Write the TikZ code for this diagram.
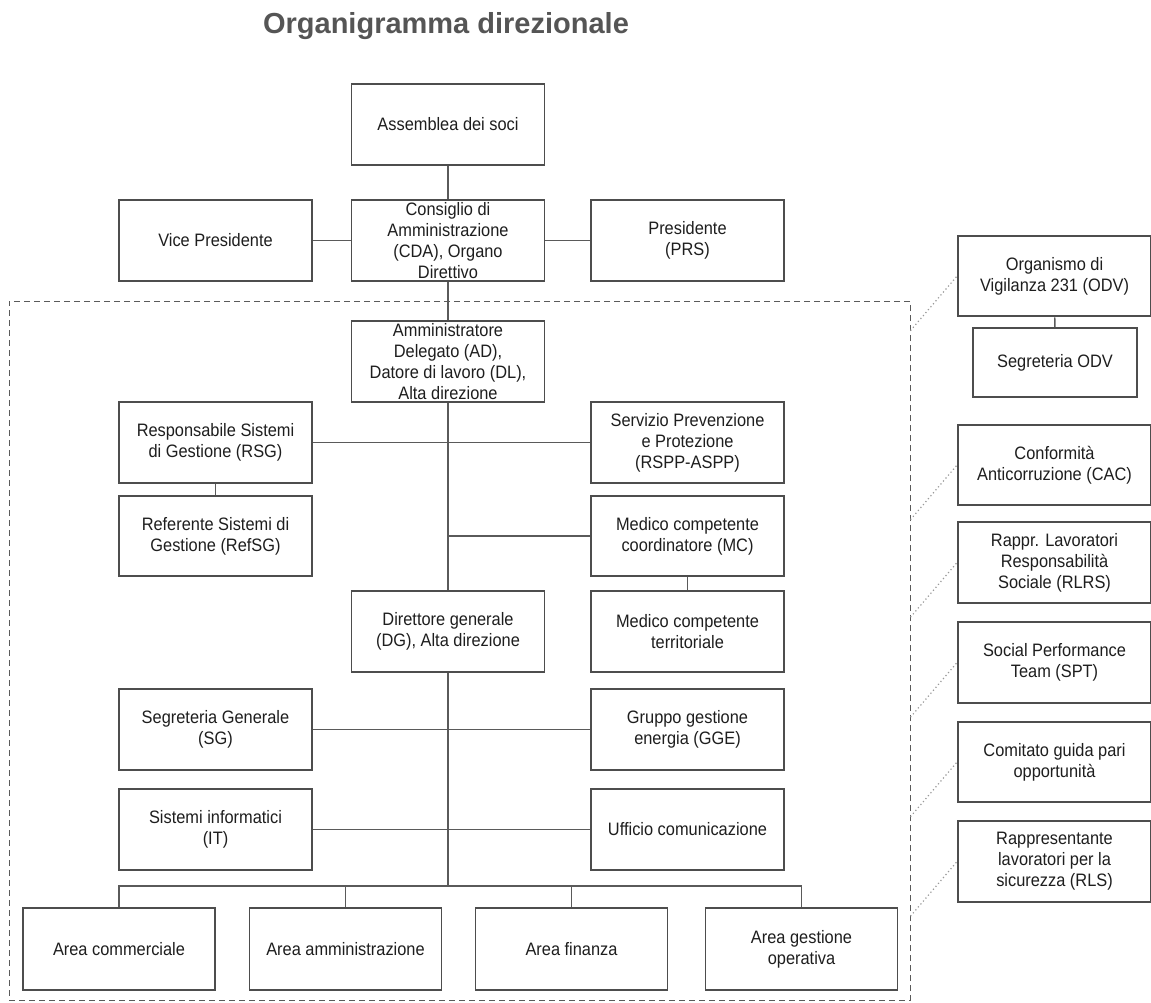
\documentclass[tikz,border=0pt]{standalone}
\usepackage{fontspec}
\setmainfont{Liberation Sans}
\newfontfamily\boxfont{Liberation Sans}[FakeStretch=0.91]
\definecolor{boxgray}{HTML}{4D4D4D}
\definecolor{linkgray}{HTML}{5A5A5A}
\definecolor{hintgray}{HTML}{9A9A9A}
\definecolor{txtgray}{HTML}{1E1E1E}
\definecolor{titlegray}{HTML}{555555}
\begin{document}
\begin{tikzpicture}[x=0.75pt,y=-0.75pt,
  unit/.style={draw=boxgray, line width=1.4pt, fill=white, minimum width=144.75pt,
    minimum height=60.5pt, inner sep=0pt, align=center, text=txtgray,
    font=\boxfont\fontsize{13.5}{15.75}\selectfont},
  link/.style={draw=linkgray, line width=1.1pt},
  hint/.style={draw=hintgray, dotted, line width=0.9pt}]
\useasboundingbox (0,0) rectangle (1151,1002);
\node[anchor=base, text=titlegray, font=\bfseries\fontsize{21.75}{26}\selectfont] (title) at (446,34) {Organigramma direzionale};
% area of the executive (dashed)
\node[draw=linkgray, dashed, dash pattern=on 4.5pt off 3pt, line width=0.7pt, minimum width=675.75pt, minimum height=524.25pt, inner sep=0pt] (frame) at (459.5,650.5) {};
% top
\node[unit] (ass) at (448,124.5) {Assemblea dei soci};
\node[unit] (vp) at (215.5,240.5) {Vice Presidente};
\node[unit] (cda) at (448,240.5) {Consiglio di\\Amministrazione\\(CDA), Organo\\Direttivo};
\node[unit] (prs) at (687.5,240.5) {Presidente\\(PRS)};
% inside the frame
\node[unit] (ad) at (448,361.5) {Amministratore\\Delegato (AD),\\Datore di lavoro (DL),\\Alta direzione};
\node[unit] (rsg) at (215.5,442.5) {Responsabile Sistemi\\di Gestione (RSG)};
\node[unit] (spp) at (687.5,442.5) {Servizio Prevenzione\\e Protezione\\(RSPP-ASPP)};
\node[unit] (refsg) at (215.5,536) {Referente Sistemi di\\Gestione (RefSG)};
\node[unit] (mc) at (687.5,536) {Medico competente\\coordinatore (MC)};
\node[unit] (dg) at (448,631.5) {Direttore generale\\(DG), Alta direzione};
\node[unit] (mct) at (687.5,631.5) {Medico competente\\territoriale};
\node[unit] (sg) at (215.5,729.5) {Segreteria Generale\\(SG)};
\node[unit] (gge) at (687.5,729.5) {Gruppo gestione\\energia (GGE)};
\node[unit] (it) at (215.5,829.5) {Sistemi informatici\\(IT)};
\node[unit] (uc) at (687.5,829.5) {Ufficio comunicazione};
\node[unit, minimum width=144pt, minimum height=61.5pt] (a1) at (119,949) {Area commerciale};
\node[unit, minimum width=144pt, minimum height=61.5pt] (a2) at (345.5,949) {Area amministrazione};
\node[unit, minimum width=144pt, minimum height=61.5pt] (a3) at (571.5,949) {Area finanza};
\node[unit, minimum width=144pt, minimum height=61.5pt] (a4) at (801.5,949) {Area gestione\\operativa};
\coordinate (bus) at (448,886);
% right column
\node[unit] (odv) at (1054.5,276) {Organismo di\\Vigilanza 231 (ODV)};
\node[unit, minimum width=123pt, minimum height=52pt] (sodv) at (1055,362.5) {Segreteria ODV};
\node[unit] (cac) at (1054.5,465) {Conformità\\Anticorruzione (CAC)};
\node[unit] (rlrs) at (1054.5,562.5) {Rappr. Lavoratori\\Responsabilità\\Sociale (RLRS)};
\node[unit] (spt) at (1054.5,662.5) {Social Performance\\Team (SPT)};
\node[unit] (cpo) at (1054.5,762) {Comitato guida pari\\opportunità};
\node[unit] (rls) at (1054.5,861.5) {Rappresentante\\lavoratori per la\\sicurezza (RLS)};
% connectors
\draw[link] (ass) -- (cda);
\draw[link] (vp) -- (cda);
\draw[link] (cda) -- (prs);
\draw[link] (cda) -- (ad);
\draw[link] (ad) -- (dg);
\draw[link] (rsg) -- (spp);
\draw[link] (rsg) -- (refsg);
\draw[link] (mc.west -| dg.north) -- (mc.west);
\draw[link] (mc) -- (mct);
\draw[link] (dg) -- (bus);
\draw[link] (sg) -- (gge);
\draw[link] (it) -- (uc);
\draw[link] (a1.north) |- (bus) -| (a4.north);
\draw[link] (a2.north) -- (a2.north |- bus);
\draw[link] (a3.north) -- (a3.north |- bus);
\draw[link] (odv) -- (sodv);
\foreach \n in {odv,cac,rlrs,spt,cpo,rls}
  \draw[hint] ([yshift=-41pt]\n.west -| frame.east) -- (\n.west);
\end{tikzpicture}
\end{document}
